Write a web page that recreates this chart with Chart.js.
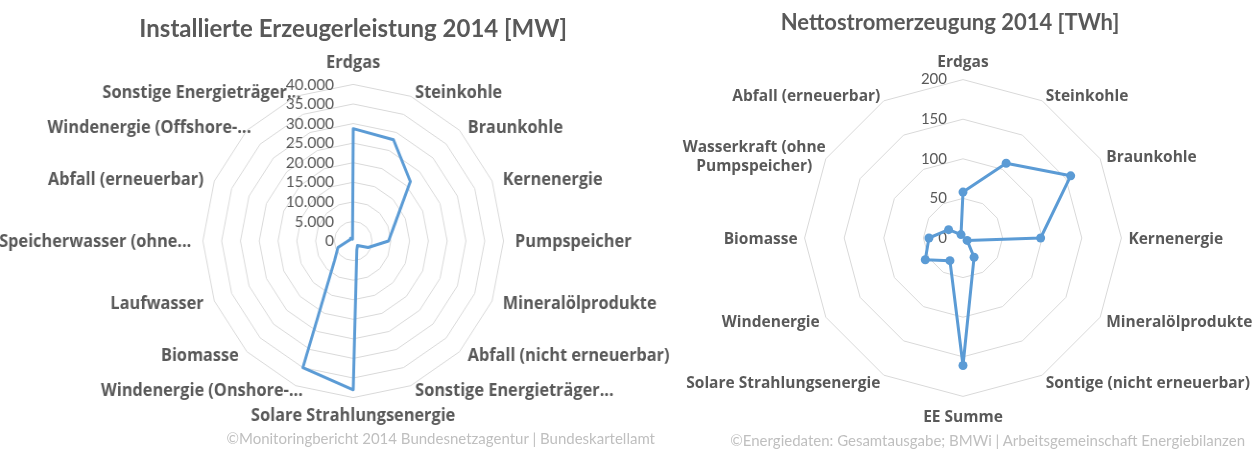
<!DOCTYPE html>
<html><head><meta charset="utf-8">
<script src="https://cdn.jsdelivr.net/npm/chart.js@4.4.1/dist/chart.umd.min.js"></script>
<style>
html,body{margin:0;padding:0;background:#fff;width:1253px;height:450px;overflow:hidden;position:relative;font-family:Lato,sans-serif}
#leftBox{position:absolute;left:-50px;top:0;width:840px;height:450px;transform:scaleX(0.96);transform-origin:0 0}
#rightBox{position:absolute;left:613px;top:0;width:700px;height:450px}
canvas{position:absolute;left:0;top:0}
.title{position:absolute;font-weight:bold;color:#595959;white-space:nowrap;text-align:center}
.src{position:absolute;color:#BFBFBF;font-size:15px;line-height:18px;white-space:nowrap;text-align:right}
</style></head>
<body>
<div id="leftBox">
  <canvas id="c1" width="840" height="450"></canvas>
  <div class="title" style="left:0;width:840px;top:12px;font-size:25px;line-height:30px">Installierte Erzeugerleistung 2014 [MW]</div>
</div>
<div id="rightBox">
  <canvas id="c2" width="700" height="450"></canvas>
</div>
<div class="title" style="left:650px;width:600px;top:9px;font-size:22px;line-height:26px">Nettostromerzeugung 2014 [TWh]</div>
<div class="src" style="right:598px;top:429px">©Monitoringbericht 2014 Bundesnetzagentur | Bundeskartellamt</div>
<div class="src" style="right:8px;top:431px">©Energiedaten: Gesamtausgabe; BMWi | Arbeitsgemeinschaft Energiebilanzen</div>
<script>
// ---- Data: installed capacity 2014 [MW]
const capacityCategories = ['Erdgas','Steinkohle','Braunkohle','Kernenergie','Pumpspeicher','Mineralölprodukte','Abfall (nicht erneuerbar)','Sonstige Energieträger...','Solare Strahlungsenergie','Windenergie (Onshore-...','Biomasse','Laufwasser','Speicherwasser (ohne...','Abfall (erneuerbar)','Windenergie (Offshore-...','Sonstige Energieträger...'];
const capacityValues = [28700, 28000, 21500, 12100, 9400, 4300, 1600, 2500, 38000, 35000, 7000, 4400, 1400, 900, 1000, 500];
const capacityTickLabels = ['0','5.000','10.000','15.000','20.000','25.000','30.000','35.000','40.000'];

// ---- Data: net electricity generation 2014 [TWh]
const generationCategories = ['Erdgas','Steinkohle','Braunkohle','Kernenergie','Mineralölprodukte','Sontige (nicht erneuerbar)','EE Summe','Solare Strahlungsenergie','Windenergie','Biomasse',['Wasserkraft (ohne','Pumpspeicher)'],'Abfall (erneuerbar)'];
const generationValues = [58, 109, 157, 98, 6, 28, 161, 33, 55, 43, 21, 5];
const generationTickLabels = ['0','50','100','150','200'];

// tick labels drawn just left of the vertical axis
const sideTicks = {
  id: 'sideTicks',
  beforeDatasetsDraw(chart, args, opts) {
    const s = chart.scales.r, ctx = chart.ctx;
    ctx.save();
    ctx.font = opts.font; ctx.fillStyle = opts.color;
    ctx.textAlign = 'right'; ctx.textBaseline = 'middle';
    s.ticks.forEach(t => {
      ctx.fillText(t.label, s.xCenter - opts.gap, s.yCenter - s.getDistanceFromCenterForValue(t.value));
    });
    ctx.restore();
  }
};

// spreadsheet-style point label placement: centre diagonal labels on their anchor
const centerLabels = {
  id: 'centerLabels',
  afterLayout(chart, args, opts) {
    const s = chart.scales.r;
    const nudge = opts.nudge || {};
    (s._pointLabelItems || []).forEach((it, i) => {
      const a = s.getIndexAngle(i);
      let deg = Math.round(a * 180 / Math.PI) % 360;
      if (deg < 0) deg += 360;
      let dy = opts.dy || 0;
      if (!(deg === 0 || deg === 90 || deg === 180 || deg === 270)) {
        const h = it.bottom - it.top;
        const upper = (deg < 90 || deg > 270);
        const pull = (opts.k || 0) * Math.abs(Math.cos(a));
        dy += upper ? h / 2 + pull : -h / 2 - pull;
      }
      const n = nudge[i];
      if (n) {
        if (n.align === 'center') {
          it.textAlign = 'center';
          it.x = (it.left + it.right) / 2;
        }
        it.x += n.dx || 0; it.left += n.dx || 0; it.right += n.dx || 0;
      }
      it.y += dy; it.top += dy; it.bottom += dy;
    });
  }
};

function radarConfig(labels, values, o) {
  return {
    type: 'radar',
    data: { labels: labels, datasets: [{
      data: values, borderColor: '#5B9BD5', backgroundColor: '#5B9BD5',
      pointBackgroundColor: '#5B9BD5', pointBorderWidth: 0,
      borderWidth: 3, fill: false, tension: 0, borderJoinStyle: 'round',
      pointRadius: o.pointRadius, pointHoverRadius: o.pointRadius
    }]},
    options: {
      responsive: false, animation: false, devicePixelRatio: 1,
      layout: { padding: o.padding },
      plugins: {
        legend: { display: false }, tooltip: { enabled: false }, title: { display: false },
        sideTicks: { font: o.tickFont, color: '#595959', gap: o.tickGap },
        centerLabels: o.labelTweaks
      },
      scales: { r: {
        min: 0, max: o.max,
        ticks: { display: false, stepSize: o.step, callback: (v, i) => o.tickLabels[i] },
        grid: { color: '#D9D9D9', lineWidth: 1 },
        angleLines: { display: false },
        pointLabels: {
          font: { family: 'Open Sans', size: o.labelSize, weight: 'bold' }, color: '#595959',
          padding: c => c.index === 0 ? o.padTop : (c.index === o.half ? o.padBottom : o.padSide)
        }
      }}
    },
    plugins: [sideTicks, centerLabels]
  };
}

Promise.all([document.fonts.load('bold 16px "Open Sans"'), document.fonts.load('15px Lato')]).catch(()=>{}).then(() => {
  new Chart(document.getElementById('c1'), radarConfig(capacityCategories, capacityValues, {
    max: 40000, step: 5000, tickLabels: capacityTickLabels, half: 8, pointRadius: 0,
    labelSize: 17, padTop: 12, padBottom: 7, padSide: 12,
    labelTweaks: { dy: 1, k: 7, nudge: { 9: { dx: 12 }, 14: { dx: 13 }, 15: { dx: 10 } } },
    padding: { top: 50, bottom: 22, left: 0, right: 0 }, tickFont: '16px Lato', tickGap: 20
  }));
  new Chart(document.getElementById('c2'), radarConfig(generationCategories, generationValues, {
    max: 200, step: 50, tickLabels: generationTickLabels, half: 6, pointRadius: 4.5,
    labelSize: 15.5, padTop: 10, padBottom: 10, padSide: 7,
    labelTweaks: { dy: 2, k: 0, nudge: { 10: { align: 'center', dx: 6 } } },
    padding: { top: 51, bottom: 24, left: 0, right: 0 }, tickFont: '15px Lato', tickGap: 16
  }));
});
</script>
</body></html>
